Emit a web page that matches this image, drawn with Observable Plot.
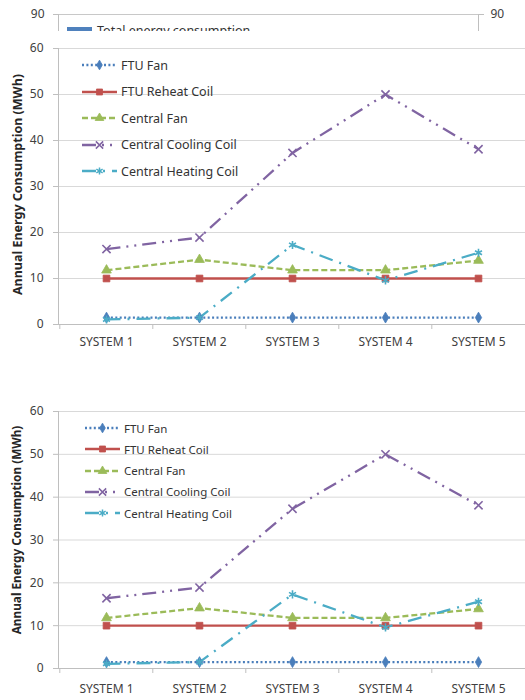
<!DOCTYPE html>
<html><head><meta charset="utf-8">
<script src="https://cdn.jsdelivr.net/npm/d3@7"></script>
<script src="https://cdn.jsdelivr.net/npm/@observablehq/plot@0.6"></script>
<style>
body{margin:0;background:#fff;font-family:"Noto Sans",sans-serif;}
#root{position:relative;width:525px;}
.chart{position:relative;}
.frag{position:relative;height:31px;overflow:hidden;}
.legend{position:absolute;left:0;top:0;color:#333;}
.legend .row{position:absolute;display:flex;align-items:center;white-space:nowrap;}
.legend svg{overflow:visible;}
</style></head><body><div id="root"></div>
<script>
// ---- data ----
const systems = ["SYSTEM 1","SYSTEM 2","SYSTEM 3","SYSTEM 4","SYSTEM 5"];
const ftuFan = [1.5,1.5,1.5,1.5,1.5];
const ftuReheatCoil = [10,10,10,10,10];
const centralFan = [11.8,14.1,11.8,11.8,13.9];
const centralCoolingCoil = [16.4,18.9,37.3,50.0,38.1];
const centralHeatingCoil = [1.1,1.5,17.3,9.6,15.6];
const seriesNames = ["FTU Fan","FTU Reheat Coil","Central Fan","Central Cooling Coil","Central Heating Coil"];
const yTicks = [0,10,20,30,40,50,60];
const yTitle = "Annual Energy Consumption (MWh)";
const fragmentTicks = [90];
const fragmentLegend = "Total energy consumption";

// ---- styles ----
const seriesValues = [ftuFan, ftuReheatCoil, centralFan, centralCoolingCoil, centralHeatingCoil];
const styles = [
  {color:"#4a7ebb", dash:"2,2.4", symbol:"diamond", r:3.3, filled:true},
  {color:"#c0504d", dash:null, symbol:"square", r:3.8, filled:true},
  {color:"#9bbb59", dash:"6,3", symbol:"triangle", r:3.6, filled:true},
  {color:"#8064a2", dash:"14,6,2,6,2,6", symbol:"times", r:3.8, filled:false},
  {color:"#4bacc6", dash:"14,7,2,7", symbol:"asterisk", r:3.8, filled:false}
];
const series = seriesNames.map((name, i) => ({name, data: systems.map((s, j) => ({system: s, value: seriesValues[i][j]}))}));

const root = document.getElementById("root");

// ---- fragment of the chart above (cropped) ----
const frag = document.createElement("div");
frag.className = "frag";
frag.append(Plot.plot({
  width:525, height:60, marginLeft:58, marginRight:47, marginTop:14, marginBottom:0,
  style:{fontFamily:"Noto Sans", fontSize:"12px", background:"#fff"},
  x:{domain:[0,1], axis:null},
  y:{domain:[0,90], axis:null},
  marks:[
    Plot.gridY(fragmentTicks,{stroke:"#c8c8c8", strokeOpacity:1}),
    Plot.frame({anchor:"left", stroke:"#bfbfbf"}),
    Plot.frame({anchor:"right", stroke:"#bfbfbf"}),
    Plot.axisY(fragmentTicks,{anchor:"left", tickSize:5, tickPadding:9, stroke:"#bfbfbf", fill:"#404040", label:null}),
    Plot.axisY(fragmentTicks,{anchor:"right", tickSize:5, tickPadding:7, stroke:"#bfbfbf", fill:"#404040", label:null})
  ]
}));
const fl = document.createElement("div");
fl.style.cssText = "position:absolute;left:67px;top:22px;display:flex;align-items:center;font-size:12.5px;color:#333;";
fl.innerHTML = `<span style="display:inline-block;width:25px;height:7px;background:#4f81bd;margin-right:5px"></span><span>${fragmentLegend}</span>`;
frag.append(fl);
root.append(frag);

function makeChart(o) {
  const wrap = document.createElement("div");
  wrap.className = "chart";
  wrap.style.marginTop = o.gapAbove + "px";
  const step = (525 - 58) / systems.length;
  const marks = [
    Plot.gridY(yTicks,{stroke:"#d9d9d9", strokeOpacity:1}),
    Plot.ruleY([0],{stroke:"#bfbfbf"}),
    Plot.frame({anchor:"left", stroke:"#bfbfbf"}),
    Plot.axisY(yTicks,{tickSize:5, tickPadding:10, stroke:"#bfbfbf", fill:"#404040", label:null}),
    Plot.axisX(systems,{tickSize:0, tickPadding:o.xPad, fill:"#404040", label:null}),
    Plot.ruleX(systems,{x:d=>d, dx:-step/2, y1:0, y2:0, insetBottom:-5, stroke:"#bfbfbf"}),
    Plot.text([yTitle],{frameAnchor:"left", textAnchor:"middle", rotate:-90, dx:-41, dy:o.titleDy, fontWeight:"bold", fill:"#262626", fontSize:o.titleFont})
  ];
  series.forEach((s, i) => {
    const st = styles[i];
    marks.push(Plot.line(s.data,{x:"system", y:"value", stroke:st.color, strokeWidth:2.3, strokeDasharray:st.dash || undefined, strokeLinecap:"butt"}));
  });
  series.forEach((s, i) => {
    const st = styles[i];
    marks.push(Plot.dot(s.data, st.filled
      ? {x:"system", y:"value", symbol:st.symbol, r:st.r, fill:st.color, stroke:st.color, strokeWidth:0.8}
      : {x:"system", y:"value", symbol:st.symbol, r:st.r, stroke:st.color, strokeWidth:1.6}));
  });
  const svg = Plot.plot({
    width:525, height:o.height, marginLeft:58, marginRight:0, marginTop:o.marginTop, marginBottom:o.marginBottom,
    style:{fontFamily:"Noto Sans", fontSize:"12px", background:"#fff", overflow:"visible"},
    x:{type:"point", domain:systems, padding:0.5, axis:null},
    y:{domain:[0,60], axis:null},
    marks
  });
  wrap.append(svg);
  // legend
  const lg = document.createElement("div");
  lg.className = "legend";
  lg.style.fontSize = o.legendFont + "px";
  series.forEach((s, i) => {
    const st = styles[i];
    const row = document.createElement("div");
    row.className = "row";
    row.style.left = o.legendLeft + "px";
    row.style.top = (o.legendTop + i * o.legendStep - 9) + "px";
    row.style.height = "18px";
    const sym = {diamond:d3.symbolDiamond, square:d3.symbolSquare, triangle:d3.symbolTriangle, times:d3.symbolTimes, asterisk:d3.symbolAsterisk}[st.symbol];
    const path = d3.symbol(sym, Math.PI * st.r * st.r * 0.8)();
    const symAttr = st.filled ? `fill="${st.color}" stroke="${st.color}" stroke-width="0.8"` : `fill="none" stroke="${st.color}" stroke-width="1.5"`;
    row.innerHTML = `<svg width="36" height="18"><line x1="0" x2="35" y1="9" y2="9" stroke="${st.color}" stroke-width="2.3" ${st.dash ? `stroke-dasharray="${st.dash}"` : ""}/><path d="${path}" transform="translate(17.5,9)" ${symAttr}/></svg><span style="margin-left:3px">${s.name}</span>`;
    lg.append(row);
  });
  wrap.append(lg);
  root.append(wrap);
}

makeChart({height:322, marginTop:17, marginBottom:29, xPad:13, titleFont:12.5, titleDy:-2,
  legendTop:34, legendStep:26.6, legendLeft:82, legendFont:12.5, gapAbove:0});
makeChart({height:306, marginTop:17, marginBottom:32, xPad:16, titleFont:11.8, titleDy:-10,
  legendTop:34, legendStep:21.3, legendLeft:85, legendFont:11.5, gapAbove:41});
</script>
</body></html>
